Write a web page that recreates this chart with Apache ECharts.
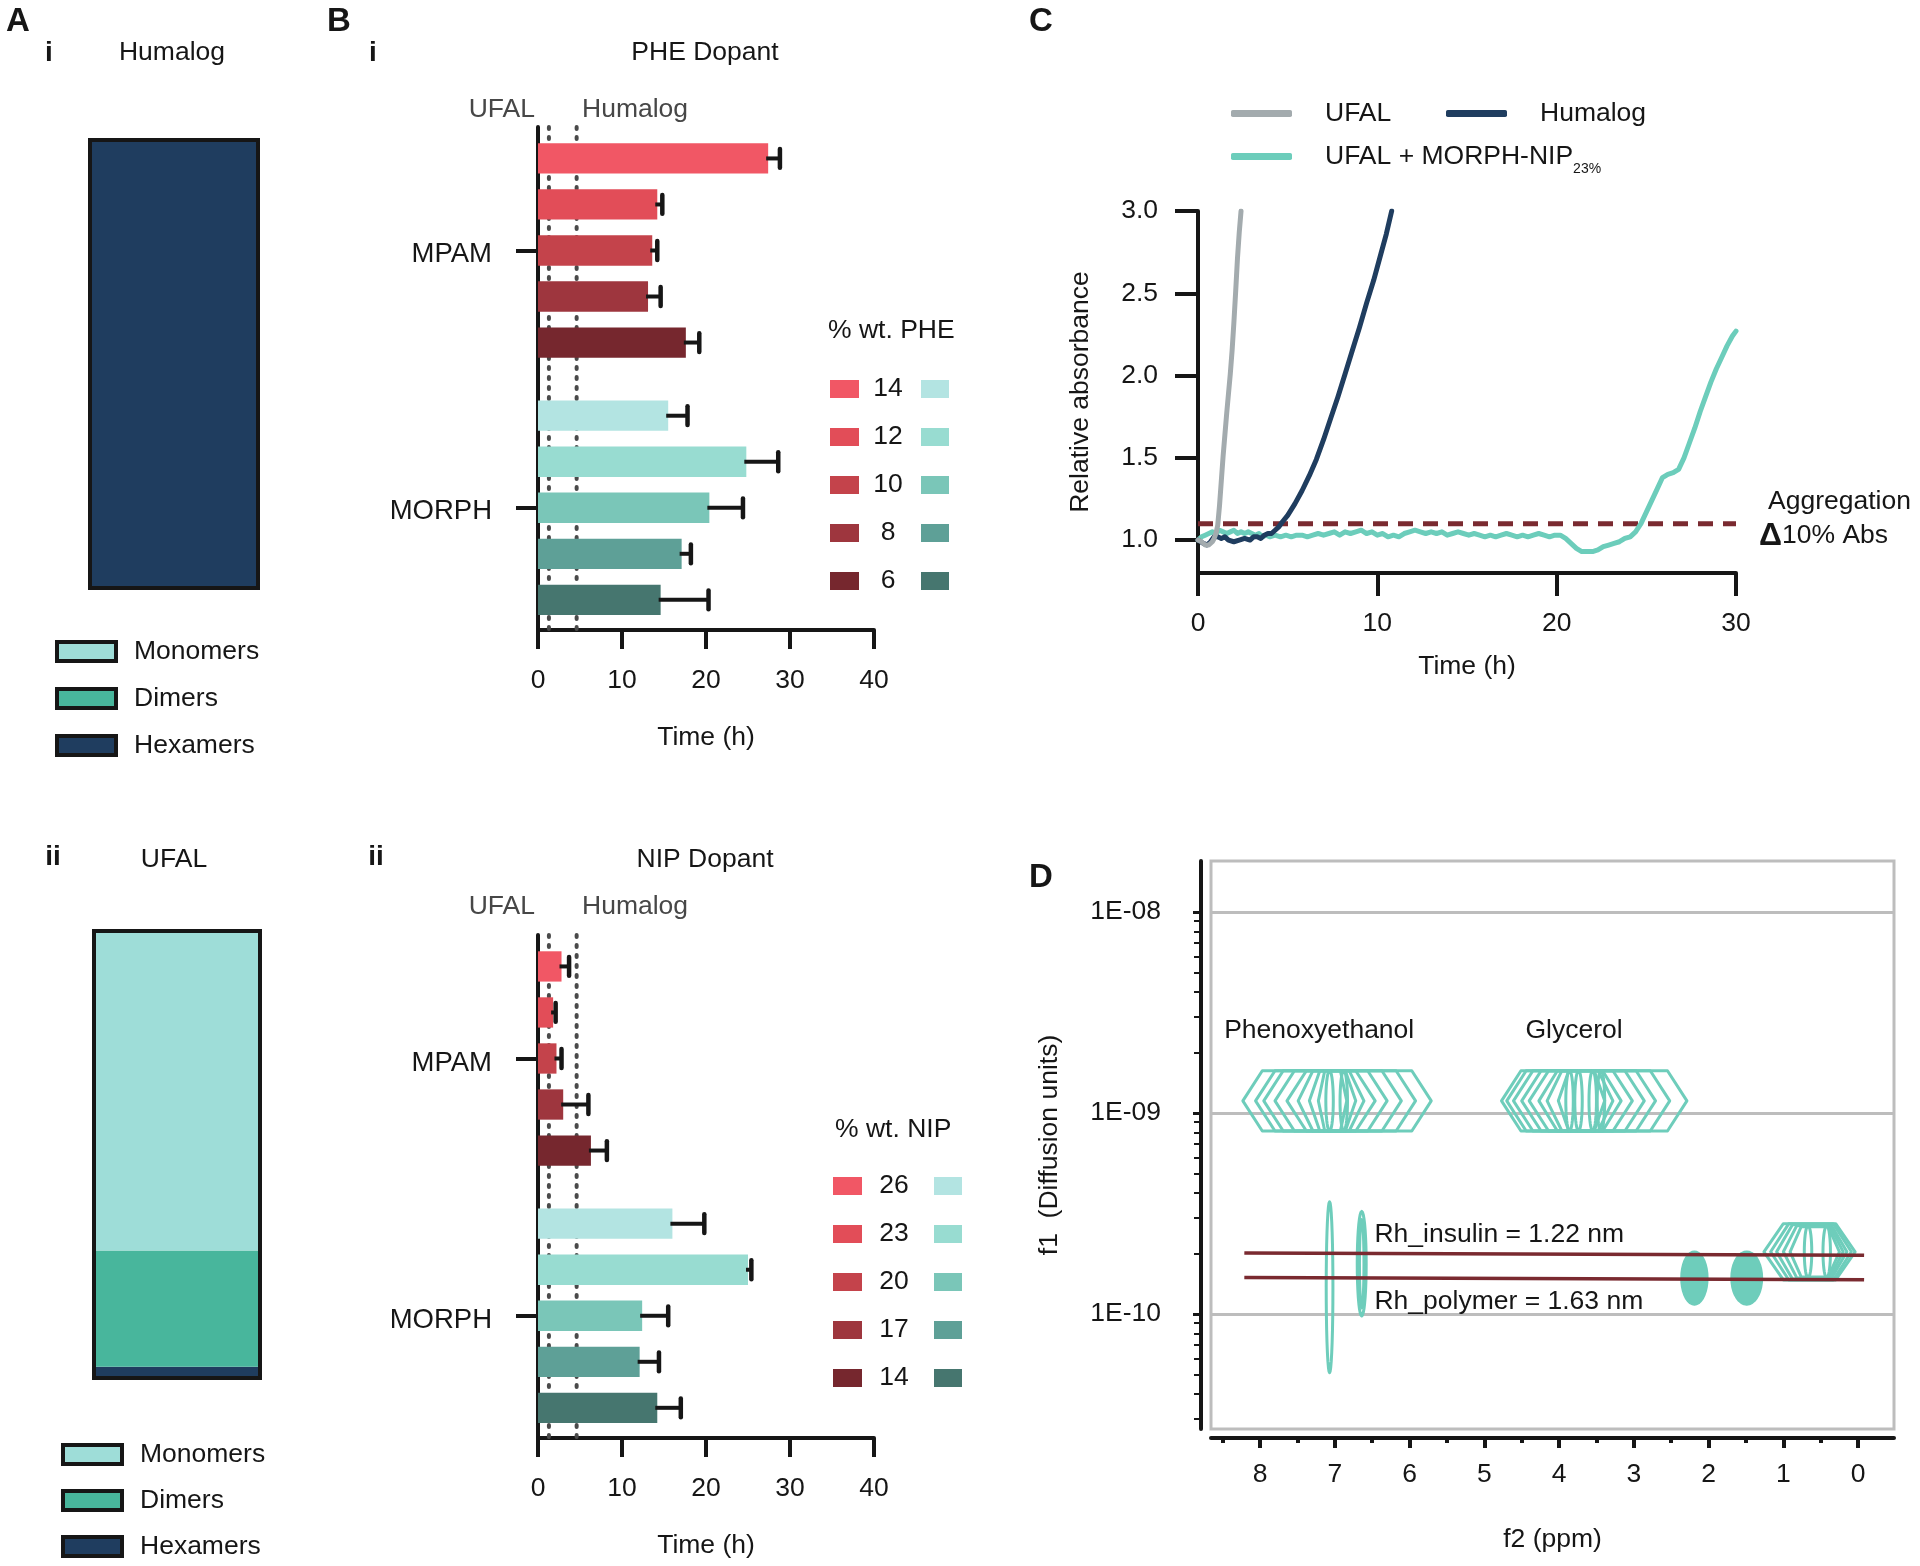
<!DOCTYPE html>
<html>
<head>
<meta charset="utf-8">
<script src="https://cdn.jsdelivr.net/npm/echarts@6/dist/echarts.min.js"></script>
<style>html,body{margin:0;padding:0;background:#fff}#c{width:1920px;height:1566px}</style>
</head>
<body>
<div id="c"></div>
<script>
// ================= DATA =================
// Panel A – species composition (%)
const speciesNames = ['Monomers', 'Dimers', 'Hexamers'];
const speciesColors = ['#9EDDD8', '#48B69C', '#1F3D5F'];
const humalogFractions = [0, 0, 100];
const ufalFractions = [71.5, 26, 2.5];

// Panel B – aggregation time (h)
const bGroups = ['MPAM', 'MORPH'];
const bTicks = [0, 10, 20, 30, 40];
const refLineNames = ['UFAL', 'Humalog'];
const refLineTimes = [1.3, 4.6];
const pheLevels = ['14', '12', '10', '8', '6'];
const pheMPAM = [27.4, 14.2, 13.6, 13.1, 17.6];
const pheMPAMsd = [1.4, 0.6, 0.6, 1.5, 1.6];
const pheMORPH = [15.5, 24.8, 20.4, 17.1, 14.6];
const pheMORPHsd = [2.3, 3.8, 4.0, 1.1, 5.7];
const nipLevels = ['26', '23', '20', '17', '14'];
const nipMPAM = [2.8, 1.8, 2.2, 3.0, 6.3];
const nipMPAMsd = [0.9, 0.3, 0.6, 3.0, 1.9];
const nipMORPH = [16.0, 25.0, 12.4, 12.1, 14.2];
const nipMORPHsd = [3.8, 0.4, 3.1, 2.3, 2.8];
const mpamColors = ['#F15765', '#E24D58', '#C4434B', '#9E363E', '#76272E'];
const morphColors = ['#B3E4E2', '#98DCD1', '#7AC6B8', '#5EA097', '#46766F'];

// Panel C – relative absorbance vs time
const cNames = ['UFAL', 'Humalog', 'UFAL + MORPH-NIP'];
const cColors = ['#A3ABAE', '#1F3D5F', '#6CCDBB'];
const cXTicks = [0, 10, 20, 30];
const cYTicks = [1.0, 1.5, 2.0, 2.5, 3.0];
const aggThreshold = 1.1;
const cUFAL = [[0,1.0],[0.2,0.99],[0.4,0.97],[0.6,0.97],[0.8,0.99],[0.9,1.01],[1.0,1.04],[1.1,1.09],[1.2,1.21],[1.3,1.36],[1.4,1.51],[1.5,1.64],[1.6,1.77],[1.7,1.89],[1.8,2.01],[1.9,2.15],[2.0,2.32],[2.1,2.51],[2.2,2.71],[2.3,2.87],[2.4,3.0]];
const cHumalog = [[0,1.0],[0.3,0.98],[0.5,0.97],[0.7,0.99],[0.9,1.02],[1.1,1.02],[1.3,1.01],[1.5,1.02],[1.7,1.0],[2.0,0.99],[2.3,1.0],[2.6,1.01],[2.9,1.0],[3.1,1.02],[3.3,1.02],[3.5,1.01],[3.7,1.03],[3.9,1.04],[4.1,1.04],[4.3,1.06],[4.5,1.08],[4.7,1.11],[5.0,1.15],[5.4,1.22],[5.8,1.30],[6.2,1.39],[6.6,1.49],[7.0,1.61],[7.4,1.74],[7.8,1.87],[8.2,2.01],[8.6,2.15],[9.0,2.29],[9.4,2.44],[9.8,2.58],[10.2,2.74],[10.5,2.86],[10.8,3.0]];
const cMorphNip = [[0,1.00],[0.2,1.02],[0.4,1.03],[0.6,1.04],[0.8,1.05],[1.0,1.04],[1.2,1.06],[1.4,1.05],[1.6,1.04],[1.8,1.05],[2.0,1.06],[2.2,1.04],[2.4,1.05],[2.6,1.04],[2.8,1.05],[3.0,1.04],[3.2,1.03],[3.4,1.04],[3.6,1.02],[3.8,1.03],[4.0,1.02],[4.3,1.03],[4.6,1.02],[4.9,1.03],[5.2,1.02],[5.5,1.03],[5.8,1.03],[6.1,1.02],[6.4,1.03],[6.7,1.04],[7.0,1.03],[7.3,1.04],[7.6,1.05],[7.9,1.03],[8.2,1.05],[8.5,1.04],[8.8,1.05],[9.1,1.06],[9.4,1.04],[9.7,1.05],[10.0,1.03],[10.3,1.04],[10.6,1.02],[10.9,1.03],[11.2,1.02],[11.5,1.04],[11.8,1.05],[12.1,1.06],[12.4,1.05],[12.7,1.04],[13.0,1.05],[13.3,1.04],[13.6,1.05],[13.9,1.03],[14.2,1.04],[14.5,1.05],[14.8,1.04],[15.1,1.03],[15.4,1.04],[15.7,1.03],[16.0,1.02],[16.3,1.03],[16.6,1.02],[16.9,1.03],[17.2,1.04],[17.5,1.03],[17.8,1.02],[18.1,1.03],[18.4,1.02],[18.7,1.03],[19.0,1.04],[19.3,1.03],[19.6,1.02],[19.9,1.03],[20.2,1.03],[20.5,1.01],[20.8,0.98],[21.1,0.95],[21.4,0.93],[21.7,0.93],[22.0,0.93],[22.3,0.94],[22.6,0.96],[22.9,0.97],[23.2,0.98],[23.5,0.99],[23.8,1.01],[24.1,1.02],[24.4,1.05],[24.7,1.1],[25.0,1.17],[25.3,1.24],[25.6,1.31],[25.9,1.38],[26.2,1.40],[26.5,1.41],[26.8,1.43],[27.1,1.50],[27.4,1.59],[27.7,1.68],[28.0,1.78],[28.3,1.87],[28.6,1.96],[28.9,2.04],[29.2,2.11],[29.5,2.18],[29.8,2.24],[30.0,2.27]];

// Panel D – DOSY
const dXTicks = [8, 7, 6, 5, 4, 3, 2, 1, 0];
const dXMinorTicks = [8.5, 7.5, 6.5, 5.5, 4.5, 3.5, 2.5, 1.5, 0.5];
const dYTicks = [1e-8, 1e-9, 1e-10];
const dYTickLabels = ['1E-08', '1E-09', '1E-10'];
const rhInsulinLine = [[8.21, 2.01e-10], [-0.08, 1.96e-10]];
const rhPolymerLine = [[8.21, 1.52e-10], [-0.08, 1.48e-10]];
// contour outlines: [ppm centre, D centre, half-width (ppm), half-height (decades), shape 0=hex 1=ellipse, filled]
const phenoxyContours = [[6.97,1.15e-9,1.26,0.15,0,0],[6.99,1.15e-9,1.07,0.15,0,0],[7.03,1.15e-9,0.92,0.15,0,0],[7.05,1.15e-9,0.75,0.15,0,0],[7.05,1.15e-9,0.59,0.15,0,0],[7.05,1.15e-9,0.44,0.15,0,0],[7.03,1.15e-9,0.31,0.15,0,0],[7.03,1.15e-9,0.19,0.15,0,0],[7.07,1.15e-9,0.05,0.15,1,0],[6.88,1.15e-9,0.05,0.15,1,0]];
const glycerolContours = [[3.53,1.15e-9,1.24,0.15,0,0],[3.61,1.15e-9,1.09,0.15,0,0],[3.66,1.15e-9,0.95,0.15,0,0],[3.68,1.15e-9,0.82,0.15,0,0],[3.71,1.15e-9,0.69,0.15,0,0],[3.72,1.15e-9,0.55,0.15,0,0],[3.72,1.15e-9,0.44,0.15,0,0],[3.70,1.15e-9,0.31,0.15,0,0],[3.86,1.15e-9,0.05,0.15,1,0],[3.74,1.15e-9,0.05,0.15,1,0],[3.55,1.15e-9,0.05,0.15,1,0],[3.44,1.15e-9,0.05,0.15,1,0]];
const insulinContours = [[7.07,1.36e-10,0.045,0.425,1,0],[6.64,1.78e-10,0.06,0.26,1,0],[6.64,1.78e-10,0.03,0.22,1,0],[2.19,1.51e-10,0.17,0.13,1,1],[1.49,1.51e-10,0.2,0.13,1,1],[0.65,2.04e-10,0.61,0.14,0,0],[0.63,2.04e-10,0.54,0.14,0,0],[0.62,2.04e-10,0.47,0.135,0,0],[0.60,2.04e-10,0.40,0.13,0,0],[0.58,2.04e-10,0.33,0.125,0,0],[0.67,2.04e-10,0.05,0.13,1,0],[0.42,2.04e-10,0.05,0.13,1,0]];
const dAnnotations = [[8.48, 2.56e-9, 'Phenoxyethanol'], [4.45, 2.56e-9, 'Glycerol'], [6.47, 2.47e-10, 'Rh_insulin = 1.22 nm'], [6.47, 1.15e-10, 'Rh_polymer = 1.63 nm']];

// ================= HELPERS =================
const FONT = "'Liberation Sans', Arial, Helvetica, sans-serif";
const INK = '#161616';
const TEAL = '#6ECDBB';
const DRED = '#7A2A30';
const FS = 26.5;
const lg = Math.log10;

// bar layout along the y value axis (0..2, inverse)
const groupCenter = [0.491, 1.514];
const barStep = 0.183;
const barThick = 0.1205;

function barRender(params, api) {
  const v = api.value(0), sd = api.value(1), g = api.value(2), k = api.value(3);
  const yc = groupCenter[g] + (k - 2) * barStep;
  const p0 = api.coord([0, yc]), p1 = api.coord([v, yc]), p2 = api.coord([v + sd, yc]);
  const h = Math.abs(api.size([0, barThick])[1]);
  const cap = h * 0.62;
  const col = (g === 0 ? mpamColors : morphColors)[k];
  return {type: 'group', children: [
    {type: 'rect', shape: {x: p0[0], y: p0[1] - h / 2, width: p1[0] - p0[0], height: h}, style: {fill: col}},
    {type: 'line', shape: {x1: p1[0] - 2, y1: p1[1], x2: p2[0], y2: p2[1]}, style: {stroke: INK, lineWidth: 4}},
    {type: 'line', shape: {x1: p2[0], y1: p2[1] - cap / 2, x2: p2[0], y2: p2[1] + cap / 2}, style: {stroke: INK, lineWidth: 4.5, lineCap: 'round'}}
  ]};
}
function barData(m, msd, r, rsd) {
  const d = [];
  m.forEach((v, k) => d.push([v, msd[k], 0, k]));
  r.forEach((v, k) => d.push([v, rsd[k], 1, k]));
  return d;
}
function outlineRender(params, api) {
  const c = api.value(0), top = api.value(1);
  const pb = api.coord([c, 0]), pt = api.coord([c, top]);
  const w = api.size([1, 0])[0];
  return {type: 'rect', shape: {x: pb[0] - w / 2, y: pt[1], width: w, height: pb[1] - pt[1]}, style: {fill: 'none', stroke: INK, lineWidth: 4}};
}
function contourRender(params, api) {
  const cx = api.value(0), cy = api.value(1), hw = api.value(2), hh = api.value(3), shape = api.value(4), filled = api.value(5);
  let pts = [];
  if (shape === 0) {
    const s = Math.min(hw * 0.45, 0.26);
    pts = [[cx + hw, cy], [cx + hw - s, cy + hh], [cx - hw + s, cy + hh], [cx - hw, cy], [cx - hw + s, cy - hh], [cx + hw - s, cy - hh]].map(p => api.coord(p));
  } else {
    for (let i = 0; i < 36; i++) { const a = i / 36 * 2 * Math.PI; pts.push(api.coord([cx + hw * Math.cos(a), cy + hh * Math.sin(a)])); }
  }
  return {type: 'polygon', shape: {points: pts}, style: {fill: filled ? TEAL : 'none', stroke: TEAL, lineWidth: 3, lineJoin: 'round'}};
}
const axisLineBlk = {show: true, onZero: false, lineStyle: {color: INK, width: 4}};
const lbl = (o) => Object.assign({color: INK, fontSize: FS, fontFamily: FONT}, o || {});

// ================= GRAPHIC TEXT / LEGENDS =================
const graphics = [];
function T(x, y, text, o) {
  graphics.push({type: 'text', x, y, silent: true, z: 50,
    style: Object.assign({text, fontFamily: FONT, fontSize: FS, fill: INK, align: 'center', verticalAlign: 'middle'}, o || {})});
}
function R(x, y, w, h, fill) { graphics.push({type: 'rect', silent: true, shape: {x, y, width: w, height: h}, style: {fill}}); }

const letter = {fontWeight: 'bold', fontSize: 33};
T(18, 22, 'A', letter);
T(49, 53, 'i', {fontWeight: 'bold', fontSize: 28});
T(172, 53, 'Humalog');
T(53, 857, 'ii', {fontWeight: 'bold', fontSize: 28});
T(174, 860, 'UFAL');
T(339, 22, 'B', letter);
T(373, 53, 'i', {fontWeight: 'bold', fontSize: 28});
T(705, 53, 'PHE Dopant');
T(376, 857, 'ii', {fontWeight: 'bold', fontSize: 28});
T(705, 860, 'NIP Dopant');
[110, 907].forEach(y => {
  T(535, y, refLineNames[0], {align: 'right', fill: '#474747'});
  T(582, y, refLineNames[1], {align: 'left', fill: '#474747'});
});
T(1041, 22, 'C', letter);
T(1041, 878, 'D', letter);
T(1768, 502, 'Aggregation', {align: 'left'});
T(1759, 536, '{d|Δ}10% Abs', {align: 'left', rich: {d: {fontFamily: FONT, fontSize: 32, fontWeight: 'bold', fill: INK}}});

function bLegend(title, levels, tx, ty, y0, xl, xn, xr) {
  T(tx, ty, title, {align: 'left'});
  levels.forEach((lv, i) => {
    const y = y0 + i * 48;
    R(xl, y - 9, 29, 18, mpamColors[i]);
    T(xn, y, lv);
    R(xr, y - 9, 28, 18, morphColors[i]);
  });
}
bLegend('% wt. PHE', pheLevels, 828, 331, 389, 830, 888, 921);
bLegend('% wt. NIP', nipLevels, 835, 1130, 1186, 833, 894, 934);

// ================= GRIDS / AXES =================
const grid = [
  {left: 90, top: 140, width: 168, height: 448},        // 0 A i
  {left: 94, top: 931, width: 166, height: 447},        // 1 A ii
  {left: 538, top: 127, width: 336, height: 503},       // 2 B i
  {left: 538, top: 935, width: 336, height: 503},       // 3 B ii
  {left: 1198, top: 211, width: 538, height: 362},      // 4 C
  {left: 1211, top: 861, width: 683, height: 568, show: true, borderColor: '#BDBDBD', borderWidth: 3} // 5 D
];

function bX(gi) {
  return {type: 'value', gridIndex: gi, min: bTicks[0], max: bTicks[bTicks.length - 1], interval: 10,
    axisLine: axisLineBlk, axisTick: {show: true, length: 19, lineStyle: {color: INK, width: 4}},
    axisLabel: lbl({margin: 37}), splitLine: {show: false},
    name: 'Time (h)', nameLocation: 'middle', nameGap: 94, nameTextStyle: lbl()};
}
function bY(gi, labelShift) {
  const labelPos = groupCenter.map(c => c + labelShift);
  return {type: 'value', gridIndex: gi, min: 0, max: 2, inverse: true,
    axisLine: axisLineBlk,
    axisTick: {show: true, length: 22, customValues: groupCenter, lineStyle: {color: INK, width: 4}},
    axisLabel: lbl({margin: 46, fontSize: 27.5, customValues: labelPos,
      formatter: v => bGroups[labelPos.findIndex(c => Math.abs(c - v) < 1e-6)] || ''}),
    splitLine: {show: false}};
}

const dXmin = -0.48, dXmax = 8.656, dYmin = -10.572, dYmax = -7.746;
const dMinorY = [];
[-11, -10, -9, -8].forEach(n => { for (let k = 2; k <= 9; k++) { const v = n + lg(k); if (v > dYmin && v < dYmax) dMinorY.push(v); } });

const xAxis = [
  {type: 'category', gridIndex: 0, data: ['Humalog'], show: false},
  {type: 'category', gridIndex: 1, data: ['UFAL'], show: false},
  bX(2), bX(3),
  {type: 'value', gridIndex: 4, min: cXTicks[0], max: cXTicks[cXTicks.length - 1], interval: 10,
    axisLine: axisLineBlk, axisTick: {show: true, length: 23, lineStyle: {color: INK, width: 4}},
    axisLabel: lbl({margin: 37}), splitLine: {show: false},
    name: 'Time (h)', nameLocation: 'middle', nameGap: 80, nameTextStyle: lbl()},
  {type: 'value', gridIndex: 5, position: 'bottom', min: dXmin, max: dXmax, inverse: true, offset: 9,
    axisLine: axisLineBlk, axisTick: {show: true, length: 10, customValues: dXTicks, lineStyle: {color: INK, width: 4}},
    axisLabel: lbl({margin: 23, customValues: dXTicks}), splitLine: {show: false},
    name: 'f2 (ppm)', nameLocation: 'middle', nameGap: 88, nameTextStyle: lbl()},
  {type: 'value', gridIndex: 5, position: 'bottom', min: dXmin, max: dXmax, inverse: true, offset: 9,
    axisLine: {show: false, onZero: false}, axisTick: {show: true, length: 5, customValues: dXMinorTicks, lineStyle: {color: INK, width: 4}},
    axisLabel: {show: false}, splitLine: {show: false}}
];
const yAxis = [
  {type: 'value', gridIndex: 0, min: 0, max: 100, show: false},
  {type: 'value', gridIndex: 1, min: 0, max: 100, show: false},
  bY(2, 0.016), bY(3, 0.02),
  {type: 'value', gridIndex: 4, min: 0.8, max: 3.0,
    axisLine: axisLineBlk, axisTick: {show: true, length: 23, customValues: cYTicks, lineStyle: {color: INK, width: 4}},
    axisLabel: lbl({margin: 40, customValues: cYTicks, formatter: v => Number(v).toFixed(1)}), splitLine: {show: false},
    name: 'Relative absorbance', nameLocation: 'middle', nameGap: 104, nameTextStyle: lbl()},
  {type: 'value', gridIndex: 5, position: 'left', min: dYmin, max: dYmax, offset: 10,
    axisLine: axisLineBlk, axisTick: {show: true, length: 8, customValues: dYTicks.map(lg), lineStyle: {color: INK, width: 3}},
    axisLabel: lbl({margin: 40, customValues: dYTicks.map(lg), formatter: v => dYTickLabels[dYTicks.findIndex(t => Math.abs(lg(t) - v) < 1e-6)] || ''}),
    splitLine: {show: false},
    name: 'f1  (Diffusion units)', nameLocation: 'middle', nameGap: 138, nameTextStyle: lbl()},
  {type: 'value', gridIndex: 5, position: 'left', min: dYmin, max: dYmax, offset: 10,
    axisLine: {show: false, onZero: false}, axisTick: {show: true, length: 7, customValues: dMinorY, lineStyle: {color: INK, width: 2}},
    axisLabel: {show: false}, splitLine: {show: false}}
];

// ================= SERIES =================
const series = [];
// Panel A
[[0, humalogFractions], [1, ufalFractions]].forEach(([gi, fr]) => {
  [2, 1, 0].forEach(si => series.push({
    type: 'bar', name: speciesNames[si], stack: 'A' + gi, xAxisIndex: gi, yAxisIndex: gi,
    barWidth: '100%', data: [fr[si]], itemStyle: {color: speciesColors[si]}, silent: true
  }));
  series.push({type: 'custom', name: 'outline' + gi, xAxisIndex: gi, yAxisIndex: gi, renderItem: outlineRender,
    data: [[0, fr.reduce((a, b) => a + b, 0)]], silent: true, z: 5});
});
// Panel B
[[2, 2, pheMPAM, pheMPAMsd, pheMORPH, pheMORPHsd], [3, 3, nipMPAM, nipMPAMsd, nipMORPH, nipMORPHsd]].forEach(([xi, yi, m, msd, r, rsd]) => {
  refLineTimes.forEach((t, j) => series.push({
    type: 'line', name: 'ref' + xi + refLineNames[j], xAxisIndex: xi, yAxisIndex: yi,
    data: [[t, 0], [t, 2]], symbol: 'none', silent: true, z: 1,
    lineStyle: {color: '#4A4A4A', width: 4, type: [2, 8], cap: 'round'}
  }));
  series.push({type: 'custom', name: 'bars' + xi, xAxisIndex: xi, yAxisIndex: yi, renderItem: barRender,
    data: barData(m, msd, r, rsd), silent: true, z: 3});
});
// Panel C
series.push({type: 'line', name: 'threshold', xAxisIndex: 4, yAxisIndex: 4, symbol: 'none', silent: true, z: 1,
  data: [[0, aggThreshold], [30, aggThreshold]], lineStyle: {color: DRED, width: 5, type: [15, 10]}});
[[2, cMorphNip], [1, cHumalog], [0, cUFAL]].forEach(([i, d], n) => series.push({
  type: 'line', name: cNames[i], xAxisIndex: 4, yAxisIndex: 4, data: d, symbol: 'none', silent: true, z: 2 + n,
  color: cColors[i], lineStyle: {color: cColors[i], width: 5, cap: 'round', join: 'round'}
}));
// Panel D
series.push({type: 'custom', name: 'contours', xAxisIndex: 5, yAxisIndex: 5, renderItem: contourRender, silent: true, z: 3,
  data: [...phenoxyContours, ...glycerolContours, ...insulinContours].map(c => [c[0], lg(c[1]), c[2], c[3], c[4], c[5]])});
[rhInsulinLine, rhPolymerLine].forEach((ln, i) => series.push({
  type: 'line', name: 'rh' + i, xAxisIndex: 5, yAxisIndex: 5, data: ln.map(p => [p[0], lg(p[1])]),
  symbol: 'none', silent: true, z: 4, lineStyle: {color: DRED, width: 3.5},
  markLine: i === 0 ? {silent: true, symbol: 'none', label: {show: false}, z: 1,
    lineStyle: {color: '#BDBDBD', width: 3, type: 'solid'}, data: dYTicks.map(t => ({yAxis: lg(t)}))} : undefined
}));
series.push({type: 'scatter', name: 'dLabels', xAxisIndex: 5, yAxisIndex: 5, symbolSize: 0.01, silent: true, z: 6,
  itemStyle: {color: INK, opacity: 1},
  data: dAnnotations.map(a => ({value: [a[0], lg(a[1])], name: a[2]})),
  label: {show: true, position: 'right', distance: 0, formatter: '{b}', color: INK, opacity: 1, textBorderWidth: 0, fontSize: FS, fontFamily: FONT},
  labelLayout: {hideOverlap: false}});

// ================= LEGENDS =================
const legendBase = {icon: 'rect', itemWidth: 59, itemHeight: 19, orient: 'vertical', selectedMode: false, padding: 0,
  itemStyle: {borderColor: INK, borderWidth: 4},
  textStyle: {fontSize: FS, fontFamily: FONT, color: INK, lineHeight: 26, padding: [0, 0, 0, 13]}};
const legend = [
  Object.assign({}, legendBase, {left: 55, top: 638, itemGap: 20, data: speciesNames}),
  Object.assign({}, legendBase, {left: 61, top: 1441, itemGap: 19, data: speciesNames}),
];
const cLegPos = [[1231, 100], [1446, 100], [1231, 143]];
cNames.forEach((nm, i) => legend.push({
  data: [nm], left: cLegPos[i][0], top: cLegPos[i][1], icon: 'roundRect', itemWidth: 61, itemHeight: 7,
  selectedMode: false, padding: 0,
  formatter: n => n === cNames[2] ? '{m|' + n + '}{s|23%}' : n,
  textStyle: {fontSize: FS, fontFamily: FONT, color: INK, padding: [0, 0, 0, 28],
    rich: {m: {fontSize: FS, fontFamily: FONT, color: INK, lineHeight: 26, verticalAlign: 'middle'},
           s: {fontSize: 14, fontFamily: FONT, color: INK, lineHeight: 40, verticalAlign: 'bottom'}}}
}));

const chart = echarts.init(document.getElementById('c'), null, {renderer: 'canvas', width: 1920, height: 1566});
chart.setOption({
  backgroundColor: '#ffffff',
  animation: false,
  textStyle: {fontFamily: FONT},
  grid, xAxis, yAxis, series, legend,
  graphic: {elements: graphics}
});
</script>
</body>
</html>
